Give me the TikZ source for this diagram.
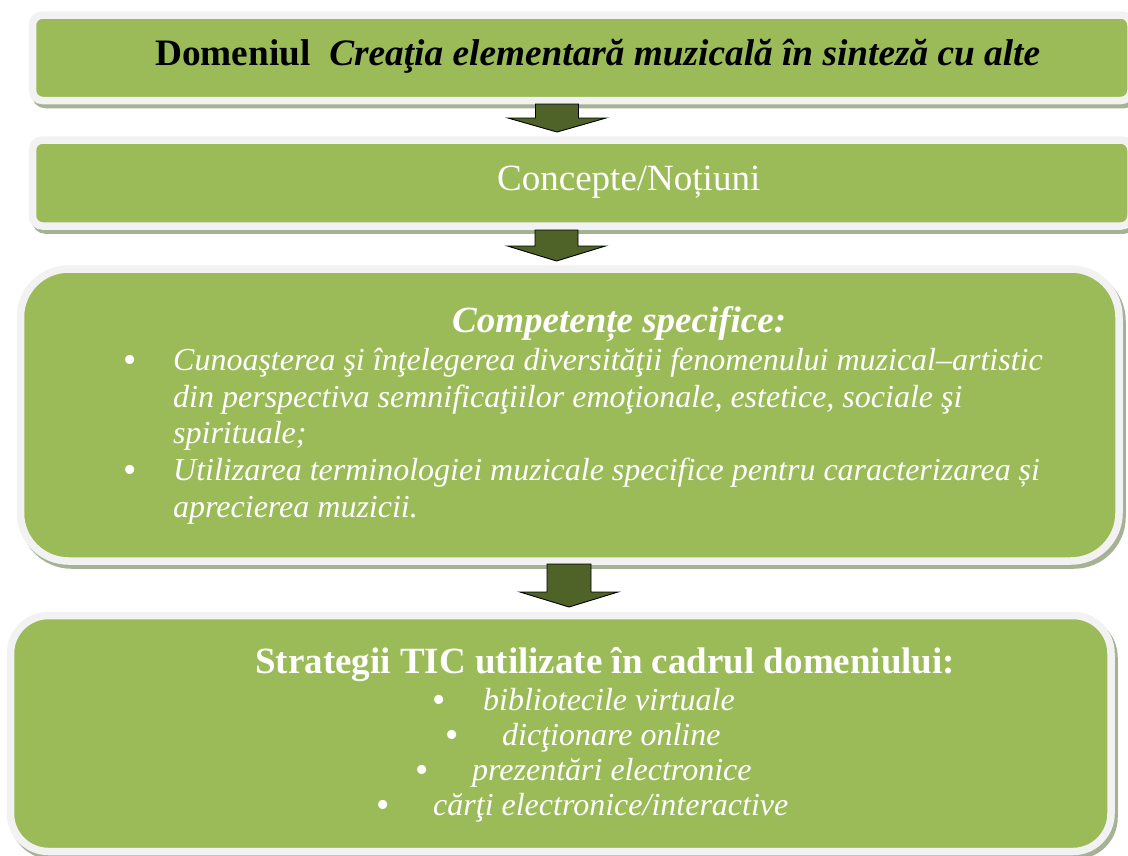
\documentclass[tikz,border=0pt]{standalone}
\usepackage{fontspec}
\setmainfont{Liberation Serif}
\definecolor{boxgreen}{RGB}{155,187,89}
\definecolor{rimgray}{RGB}{242,242,242}
\definecolor{shadowgray}{RGB}{166,178,148}
\definecolor{arrowolive}{RGB}{79,98,40}
\newcommand{\bigbullet}{\raisebox{-2.5pt}{\upshape\fontsize{38}{38}\selectfont •}}
\begin{document}
\begin{tikzpicture}[x=1pt,y=-1pt,
  panel/.style={draw=rimgray, fill=boxgreen, line width=7.5pt, inner sep=0pt,
    preaction={draw=shadowgray, fill=shadowgray, line width=7.5pt,
      transform canvas={xshift=3pt,yshift=-4pt}}},
  blockarrow/.style={draw=black, fill=arrowolive, line width=0.9pt, line join=miter},
  headtext/.style={inner sep=0pt, font=\fontsize{37}{40}\selectfont},
  bodytext/.style={inner sep=0pt, anchor=base west, text=white, font=\fontsize{32}{36}\selectfont\itshape},
]
\useasboundingbox (0,0) rectangle (1128,855);
\fill[white] (0,0) rectangle (1128,855);

% boxes
\node[panel, rounded corners=10pt, minimum width=1098.5pt, minimum height=85.5pt] (b1) at (581.75,57.75) {};
\node[panel, rounded corners=10pt, minimum width=1098.5pt, minimum height=86pt] (b2) at (581.75,183) {};
\node[panel, rounded corners=48pt, minimum width=1098.5pt, minimum height=292pt] (b3) at (569.75,415) {};
\node[panel, rounded corners=38pt, minimum width=1100.5pt, minimum height=236pt] (b4) at (560.75,733.5) {};

% arrows
\coordinate (a1s) at (557,104);
\coordinate (a1t) at (557,132);
\coordinate (a2s) at (556.5,230);
\coordinate (a2t) at (556.5,261);
\coordinate (a3s) at (569,564);
\coordinate (a3t) at (569,607);
\draw[blockarrow] (a1s) ++(-21.5,0) -- ++(0,14) -- ++(-27.5,0) -- (a1t) -- ++(49,-14) -- ++(-27.5,0) -- ++(0,-14) -- cycle;
\draw[blockarrow] (a2s) ++(-21.5,0) -- ++(0,16) -- ++(-27.5,0) -- (a2t) -- ++(49,-15) -- ++(-27.5,0) -- ++(0,-16) -- cycle;
\draw[blockarrow] (a3s) ++(-22,0) -- ++(0,28) -- ++(-27,0) -- (a3t) -- ++(49,-15) -- ++(-27,0) -- ++(0,-28) -- cycle;

% box 1 text
\node[headtext, anchor=base west, font=\fontsize{37.3}{40}\selectfont\bfseries] (t1) at (155,65)
  {Domeniul\ \ \textit{Creaţia elementară muzicală în sinteză cu alte}};

% box 2 text
\node[headtext, anchor=base west, text=white] (t2) at (497,190) {Concepte/Noțiuni};

% box 3 text
\node[headtext, anchor=base west, text=white, font=\fontsize{37}{40}\selectfont\bfseries\itshape] (t3) at (452,332) {Competențe specifice:};
\node[bodytext] (c1) at (123.4,370) {\makebox[49.6pt][l]{\bigbullet}Cunoaşterea şi înţelegerea diversităţii fenomenului muzical–artistic};
\node[bodytext] (c2) at (173,407) {din perspectiva semnificaţiilor emoţionale, estetice, sociale şi};
\node[bodytext] (c3) at (173,443) {spirituale;};
\node[bodytext] (c4) at (123.4,480) {\makebox[49.6pt][l]{\bigbullet}Utilizarea terminologiei muzicale specifice pentru caracterizarea și};
\node[bodytext] (c5) at (173,517) {aprecierea muzicii.};

% box 4 text
\node[headtext, anchor=base west, text=white, font=\fontsize{37}{40}\selectfont\bfseries] (t4) at (255,673) {Strategii TIC utilizate în cadrul domeniului:};
\node[bodytext] (s1) at (432.4,710) {\makebox[50.6pt][l]{\bigbullet}bibliotecile virtuale};
\node[bodytext] (s2) at (445.4,745) {\makebox[56.6pt][l]{\bigbullet}dicţionare online};
\node[bodytext] (s3) at (415.4,780) {\makebox[56.6pt][l]{\bigbullet}prezentări electronice};
\node[bodytext] (s4) at (376.4,815) {\makebox[56.6pt][l]{\bigbullet}cărţi electronice/interactive};
\end{tikzpicture}
\end{document}
